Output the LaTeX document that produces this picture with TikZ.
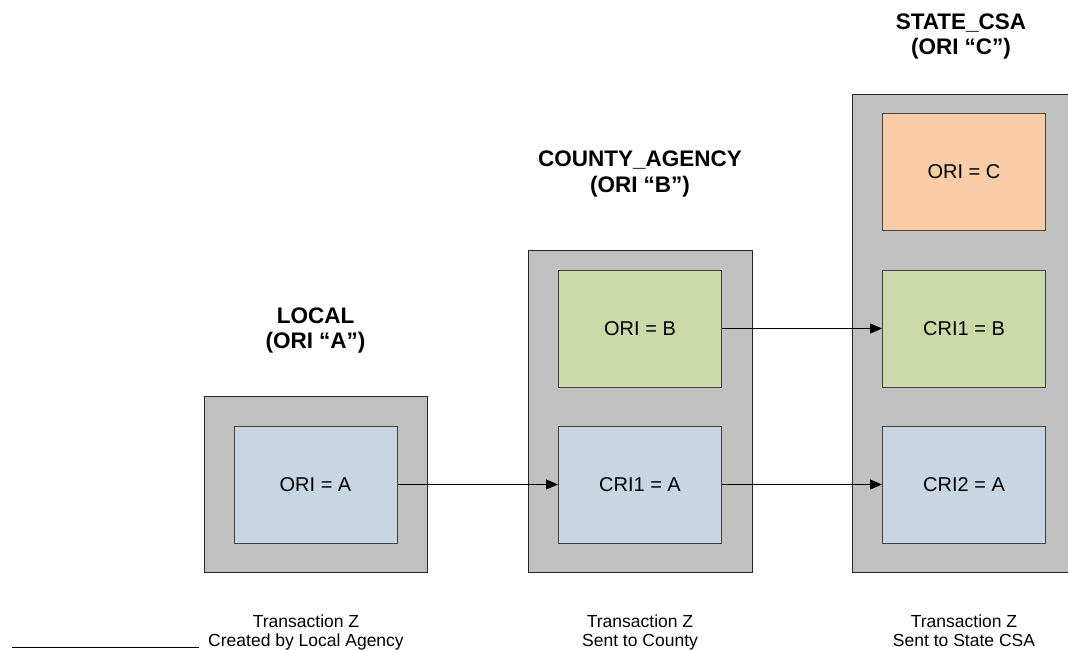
\documentclass[tikz,border=0pt]{standalone}
\usepackage{fontspec}
\setmainfont{Liberation Sans}
\usetikzlibrary{arrows.meta}
\definecolor{outerfill}{RGB}{192,192,192}
\definecolor{bluefill}{RGB}{200,214,228}
\definecolor{greenfill}{RGB}{204,218,170}
\definecolor{orangefill}{RGB}{250,204,168}
\definecolor{edgegray}{RGB}{64,64,64}
\tikzset{
  outerbox/.style={draw=black!85, line width=1pt, fill=outerfill, inner sep=0pt},
  innerbox/.style={draw=edgegray, line width=1pt, inner sep=0pt, minimum width=163pt, minimum height=117pt, font=\fontsize{20}{24}\selectfont},
  bluebox/.style={innerbox, fill=bluefill},
  greenbox/.style={innerbox, fill=greenfill},
  orangebox/.style={innerbox, fill=orangefill},
  title/.style={align=center, anchor=north, font=\bfseries\fontsize{22.5}{25.5}\selectfont, inner sep=0pt},
  caption/.style={align=center, anchor=north, font=\fontsize{17.5}{19}\selectfont, inner sep=0pt},
  flow/.style={line width=0.9pt, -{Triangle[length=12pt,width=10pt]}}
}
\begin{document}
\begin{tikzpicture}[x=1pt,y=-1pt]
\useasboundingbox (0,0) rectangle (1068,649);
\clip (0,0) rectangle (1068,649);
\fill[white] (0,0) rectangle (1068,649);

% outer boxes
\node[outerbox, minimum width=223pt, minimum height=176pt] (localbox) at (315.5,484) {};
\node[outerbox, minimum width=224pt, minimum height=322pt] (countybox) at (640,411) {};
\node[outerbox, minimum width=230pt, minimum height=478pt] (statebox) at (967,333) {};

% inner boxes
\node[bluebox] (oriA) at (315.5,484.5) {ORI = A};
\node[greenbox] (oriB) at (640,328.5) {ORI = B};
\node[bluebox] (cri1A) at (640,484.5) {CRI1 = A};
\node[orangebox] (oriC) at (964,172) {ORI = C};
\node[greenbox] (cri1B) at (964,328.5) {CRI1 = B};
\node[bluebox] (cri2A) at (964,484.5) {CRI2 = A};

% titles
\node[title] (tlocal) at (315.5,307.5) {LOCAL\\(ORI “A”)};
\node[title] (tcounty) at (640,151) {COUNTY\_AGENCY\\(ORI “B”)};
\node[title] (tstate) at (961,13.5) {STATE\_CSA\\(ORI “C”)};

% captions
\node[caption] (clocal) at (306,615) {Transaction Z\\Created by Local Agency};
\node[caption] (ccounty) at (640,615) {Transaction Z\\Sent to County};
\node[caption] (cstate) at (964,615) {Transaction Z\\Sent to State CSA};

% connectors
\draw[flow] (oriA.east) -- (cri1A.west);
\draw[flow] (oriB.east) -- (cri1B.west);
\draw[flow] (cri1A.east) -- (cri2A.west);

% underline at bottom left
\coordinate (ulstart) at (12,647.5);
\coordinate (ulend) at (199,647.5);
\draw[line width=1pt] (ulstart) -- (ulend);
\end{tikzpicture}
\end{document}
